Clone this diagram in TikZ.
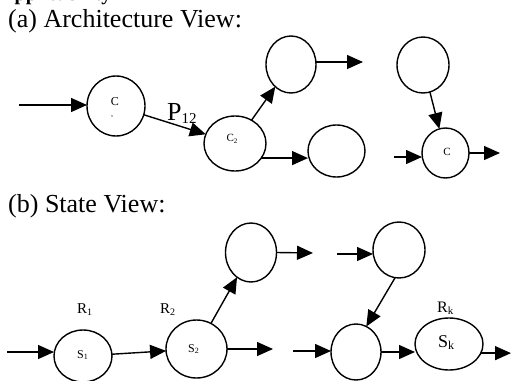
\documentclass[tikz,border=0pt]{standalone}
\usepackage{fontspec}
\setmainfont{Liberation Serif}
\usetikzlibrary{arrows.meta,shapes.geometric}
% lowered small index after a letter: size, text
\newcommand\lowsub[2]{{\fontsize{#1}{#1}\selectfont\raisebox{-0.2em}{#2}}}
\tikzset{
  state/.style={draw, ellipse, line width=1.4pt, inner sep=0pt, outer sep=0pt},
  arr/.style={line width=1.4pt, -{Triangle[length=16pt,width=14pt]}},
  lbl/.style={inner sep=0pt, anchor=base west},
  tag/.style={inner sep=0pt},
  title/.style={lbl, font=\fontsize{26}{30}\selectfont},
}
\begin{document}
\begin{tikzpicture}[x=1pt,y=-1pt]
\useasboundingbox (0,0) rectangle (511,380);

% headings
\node[lbl, font=\bfseries\fontsize{20}{24}\selectfont] (hd) at (0,1) {Applicability};
\node[title] (ta) at (8,27.6) {(a) Architecture View:};
\node[title] (tb) at (8,212.6) {(b) State View:};

% (a) architecture view: components
\node[state, minimum width=58pt, minimum height=60pt] (C1) at (116,106) {};
\node[state, minimum width=62pt, minimum height=55pt] (C2) at (235,143.5) {};
\node[state, minimum width=50pt, minimum height=57pt] (T1) at (291,64.5) {};
\node[state, minimum width=57pt, minimum height=52pt] (B1) at (336.5,151) {};
\node[state, minimum width=52pt, minimum height=56pt] (T2) at (423,65) {};
\node[state, minimum width=47pt, minimum height=50pt] (C3) at (445.5,153) {};

\node[tag, font=\fontsize{12}{12}\selectfont] (lc1) at (115,102) {C};
\node[tag, font=\fontsize{8}{8}\selectfont] (lc1d) at (112,117) {,};
\node[tag, font=\fontsize{11}{11}\selectfont] (lc2) at (232,139) {C\lowsub{7}{2}};
\node[tag, font=\fontsize{11}{11}\selectfont] (lc3) at (447,152) {C};
\node[lbl, font=\fontsize{26}{30}\selectfont] (p12) at (167,120) {P\lowsub{15}{12}};

\coordinate (a0) at (19,105);
\coordinate (t1o) at (363,62);
\coordinate (c3i) at (394,157);
\coordinate (c3o) at (500,153);

\draw[arr] (a0) -- (a0 -| C1.west);
\draw[arr] (C1) -- (C2);
\draw[arr] (C2) -- (T1);
\draw[arr] (T1.east |- t1o) -- (t1o);
\draw[arr] (C2.-29) -- (C2.-29 -| B1.west);
\draw[arr] (T2) -- (C3);
\draw[arr] (c3i) -- (c3i -| C3.west);
\draw[arr] (C3.east) -- (c3o);

% (b) state view: states
\node[state, minimum width=58pt, minimum height=52pt] (S1) at (83,356) {};
\node[state, minimum width=61pt, minimum height=58pt] (S2) at (196.5,349) {};
\node[state, minimum width=51pt, minimum height=59pt] (U1) at (251,252.5) {};
\node[state, minimum width=52pt, minimum height=56pt] (U2) at (399,250) {};
\node[state, minimum width=50pt, minimum height=56pt] (V) at (356,352) {};
\node[state, minimum width=68pt, minimum height=52pt] (Sk) at (449,344) {};

\node[lbl, font=\fontsize{15}{15}\selectfont] (r1) at (77,313) {R\lowsub{10}{1}};
\node[lbl, font=\fontsize{15}{15}\selectfont] (r2) at (160,313) {R\lowsub{10}{2}};
\node[lbl, font=\fontsize{16}{16}\selectfont] (rk) at (437,312) {R\lowsub{11}{k}};
\node[lbl, font=\fontsize{12}{12}\selectfont] (s1) at (77,358) {S\lowsub{8}{1}};
\node[lbl, font=\fontsize{12}{12}\selectfont] (s2) at (188,352) {S\lowsub{8}{2}};
\node[lbl, font=\fontsize{18}{18}\selectfont] (sk) at (438,347) {S\lowsub{12}{k}};

\coordinate (b0) at (7,352);
\coordinate (s2o) at (273,349);
\coordinate (u1o) at (313,253);
\coordinate (u2i) at (337,254);
\coordinate (vi) at (293,351);
\coordinate (sko) at (511,351);

\draw[arr] (b0) -- (b0 -| S1.west);
\draw[arr] (S1) -- (S2);
\draw[arr] (S2) -- (U1);
\draw[arr] (S2.east) -- (s2o);
\draw[arr] (U1.east) -- (u1o);
\draw[arr] (u2i) -- (u2i -| U2.west);
\draw[arr] (U2.-98) -- (V.68);
\draw[arr] (vi) -- (vi -| V.west);
\draw[arr] (V.east) -- (V.east -| Sk.west);
\draw[arr] (Sk.-16) -- (Sk.-16 -| sko);
\end{tikzpicture}
\end{document}
